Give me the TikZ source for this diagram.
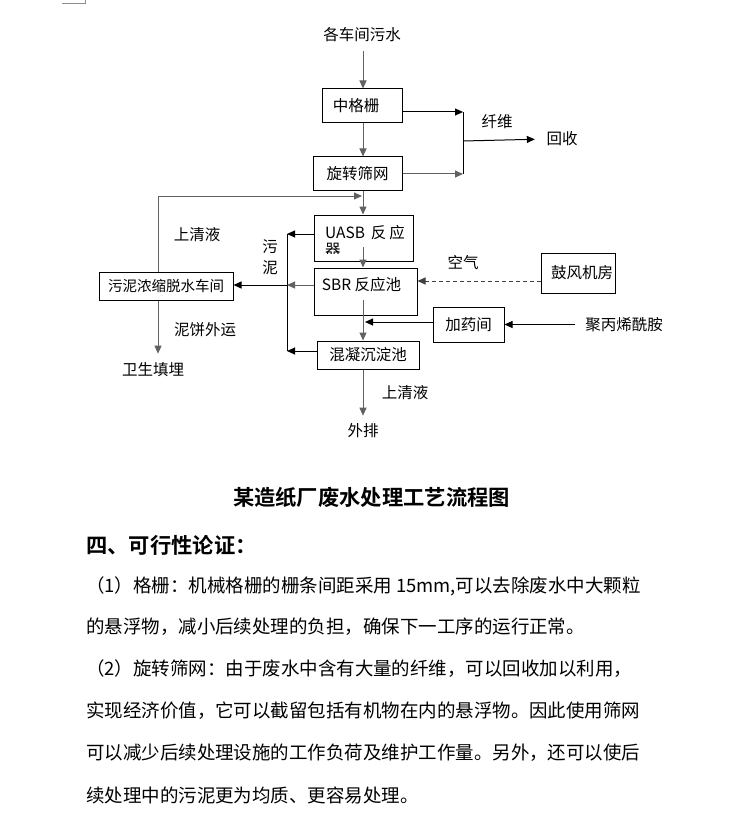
\documentclass[tikz,border=0pt]{standalone}
\usepackage{fontspec}
\setmainfont{Noto Sans CJK SC}[BoldFont={Noto Sans CJK SC Bold}]
\usetikzlibrary{arrows.meta}
\newcommand\dfont{\fontsize{15.5}{16}\selectfont}
\newcommand\mfont{\fontsize{14.5}{15}\selectfont}
\newcommand\bfont{\fontsize{18.47}{20}\selectfont}
\newcommand\hfont{\fontsize{21.3}{22}\selectfont\bfseries}
\tikzset{
 ln/.style={draw=black, line width=1pt},
 gl/.style={draw=black!62, line width=1pt},
 tip/.style={-{Triangle[length=8pt,width=7pt]}},
 box/.style={draw=black, line width=1pt, fill=white, inner sep=0pt, font=\dfont},
 lbl/.style={inner sep=0pt, font=\dfont},
 bodytext/.style={inner sep=0pt, anchor=west, font=\bfont},
}
\begin{document}
\begin{tikzpicture}[x=1pt,y=-1pt]
\useasboundingbox[fill=white] (0,0) rectangle (740,813);
% corner mark
\draw[black!45, line width=0.6pt] (62,3) -- (85,3) -- (85,0);
% boxes
\node[box, minimum width=80pt, minimum height=34pt] (g1) at (362,106) {\hspace*{-12pt}中格栅};
\node[box, minimum width=89pt, minimum height=33pt] (g2) at (357.5,173.5) {旋转筛网};
\node[box, minimum width=99pt, minimum height=46pt] (uasb) at (363.5,238) {};
\node[box, minimum width=103pt, minimum height=47pt] (sbr) at (365.5,291.5) {};
\node[box, minimum width=102pt, minimum height=28pt] (hn) at (368,355) {混凝沉淀池};
\node[box, minimum width=134pt, minimum height=28pt, font=\mfont] (wn) at (166,286) {污泥浓缩脱水车间};
\node[box, minimum width=74pt, minimum height=40pt] (gf) at (578,273) {\hspace*{8pt}鼓风机房};
\node[box, minimum width=71pt, minimum height=35pt] (jy) at (468.5,324.5) {加药间};
% texts inside UASB and SBR
\node[lbl, anchor=west] (ut1) at (325,233) {UASB\hspace{6pt}反\hspace{3pt}应};
\begin{scope}
\clip (315,240) rectangle (412,253.5);
\node[lbl, anchor=west] (ut2) at (325,250) {器};
\end{scope}
\node[lbl] (st) at (361.5,285) {SBR 反应池};
% labels
\node[lbl] (src) at (362,35) {各车间污水};
\node[lbl] (xw) at (497,122) {纤维};
\node[lbl] (hs) at (562,139) {回收};
\node[lbl] (sq1) at (197,235) {上清液};
\node[lbl] (w1) at (270,247) {污};
\node[lbl] (w2) at (270,268) {泥};
\node[lbl] (kq) at (463,263) {空气};
\node[lbl] (nb) at (205,330) {泥饼外运};
\node[lbl] (wt) at (153,370) {卫生填埋};
\node[lbl] (sq2) at (405,393) {上清液};
\node[lbl] (wp) at (363,431) {外排};
\node[lbl] (pj) at (624,325) {聚丙烯酰胺};
% coordinates
\coordinate (m0) at (363,0);
\coordinate (j1) at (463,112);
\coordinate (j2) at (463,174);
\coordinate (j3) at (463,141);
\coordinate (r1) at (158,196);
\coordinate (r2) at (362,196);
\coordinate (b1) at (287,234);
\coordinate (b2) at (287,285);
\coordinate (b3) at (287,351);
\coordinate (u1) at (363,247);
\coordinate (s1) at (363,300);
\coordinate (a1) at (480,281);
\coordinate (m1) at (363,322);
% connectors
\draw[gl, tip, shorten <=9pt] (src.south -| m0) -- (g1.north -| m0);
\draw[gl, tip] (g1.south -| m0) -- (g2.north -| m0);
\draw[ln, tip] (g1.east |- j1) -- (j1);
\draw[gl, tip] (g2.east |- j2) -- (j2);
\draw[ln] (j1) -- (j2);
\draw[ln, tip, shorten >=11.5pt] (j3) -- (hs.west);
\draw[gl, tip] (g2.south -| m0) -- (uasb.north -| m0);
\draw[gl, tip] (wn.north -| r1) -- (r1) -- (r2);
\draw[gl, tip] (u1) -- (u1 |- sbr.north);
\draw[ln] (b1) -- (b3);
\draw[ln, tip] (uasb.west |- b1) -- (b1);
\draw[gl, tip] (sbr.west |- b2) -- (b2);
\draw[ln, tip] (hn.west |- b3) -- (b3);
\draw[ln, tip] (b2) -- (wn.east |- b2);
\draw[gl, tip, shorten >=9pt] (wn.south -| r1) -- (r1 |- wt.north);
\draw[draw=black!75, line width=1pt, dash pattern=on 4pt off 3pt, tip] (gf.west |- a1) -- (sbr.east |- a1);
\draw[ln, tip] (jy.west |- m1) -- ([xshift=2pt]m1);
\draw[gl, tip] (s1) -- (s1 |- hn.north);
\draw[ln, tip, shorten <=10.5pt] (pj.west |- jy.east) -- (jy.east);
\draw[gl, tip, shorten >=8pt] (hn.south -| m0) -- (wp.north -| m0);
% title and body text
\node[inner sep=0pt, font=\hfont] (title) at (371.5,497) {某造纸厂废水处理工艺流程图};
\node[bodytext, font=\hfont] (h4) at (86,545) {四、可行性论证：};
\node[bodytext] (p1) at (86,586) {（1）格栅：机械格栅的栅条间距采用 15mm,可以去除废水中大颗粒};
\node[bodytext] (p2) at (86,627) {的悬浮物，减小后续处理的负担，确保下一工序的运行正常。};
\node[bodytext] (p3) at (86,669) {（2）旋转筛网：由于废水中含有大量的纤维，可以回收加以利用，};
\node[bodytext] (p4) at (86,711) {实现经济价值，它可以截留包括有机物在内的悬浮物。因此使用筛网};
\node[bodytext] (p5) at (86,753) {可以减少后续处理设施的工作负荷及维护工作量。另外，还可以使后};
\node[bodytext] (p6) at (86,795) {续处理中的污泥更为均质、更容易处理。};
\end{tikzpicture}
\end{document}
